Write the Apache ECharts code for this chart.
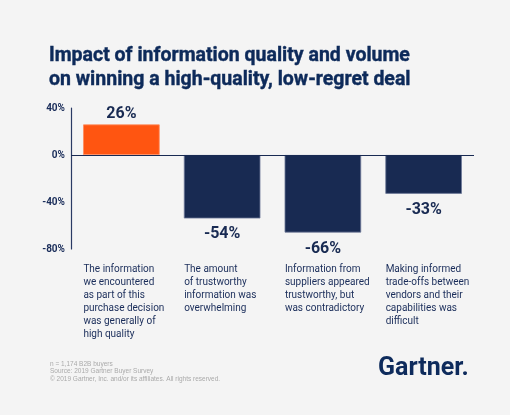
<!DOCTYPE html>
<html><head><meta charset="utf-8">
<script src="https://cdn.jsdelivr.net/npm/echarts@6/dist/echarts.min.js"></script>
<style>html,body{margin:0;padding:0;background:#f4f4f4;}#c{width:510px;height:415px;}</style>
</head><body><div id="c"></div>
<script>
const categories = [
  "The information\nwe encountered\nas part of this\npurchase decision\nwas generally of\nhigh quality",
  "The amount\nof trustworthy\ninformation was\noverwhelming",
  "Information from\nsuppliers appeared\ntrustworthy, but\nwas contradictory",
  "Making informed\ntrade-offs between\nvendors and their\ncapabilities was\ndifficult"
];
const values = [26, -54, -66, -33];
const yTicks = [-80, -40, 0, 40];
const titleText = "Impact of information quality and volume\non winning a high-quality, low-regret deal";
const footerText = "n = 1,174 B2B buyers\nSource: 2019 Gartner Buyer Survey\n\u00a9 2019 Gartner, Inc. and/or its affiliates. All rights reserved.";

const NAVY = '#182a52';
const ORANGE = '#ff5511';
const chart = echarts.init(document.getElementById('c'));
chart.setOption({
  backgroundColor: '#f4f4f4',
  animation: false,
  title: [
    { text: titleText, left: 44, top: 39,
      textStyle: { fontFamily: 'Roboto', fontWeight: 'bold', fontSize: 19.5, lineHeight: 24, color: '#0d2a5a', textBorderColor: '#0d2a5a', textBorderWidth: 0.4 } },
    { text: footerText, left: 45, top: 355,
      textStyle: { fontFamily: 'Liberation Sans', fontWeight: 'normal', fontSize: 6.5, lineHeight: 7.6, color: '#aaaaaa' } },
    { text: 'Gartner.', left: 373, top: 351,
      textStyle: { fontFamily: 'Roboto', fontWeight: 'bold', fontSize: 25, color: '#0e2b5c' } }
  ],
  grid: { left: 71, right: 36, top: 108, bottom: 166, containLabel: false },
  xAxis: {
    type: 'category',
    data: categories,
    position: 'bottom',
    axisLine: { onZero: false, show: false },
    axisTick: { show: false },
    axisLabel: {
      interval: 0,
      margin: 14,
      formatter: function (v) { return v.split('\n').map(l => '{a|' + l + '}').join('\n'); },
      rich: { a: { width: 76, align: 'left', fontFamily: 'Roboto', fontSize: 10, lineHeight: 13, color: '#1a2d5a' } }
    }
  },
  yAxis: {
    type: 'value',
    min: -80, max: 40, interval: 40,
    axisLine: { show: true, lineStyle: { color: '#2a3a64', width: 1.2 } },
    axisTick: { show: false },
    splitLine: { show: false },
    axisLabel: {
      margin: 6,
      formatter: v => v + '%',
      fontFamily: 'Roboto', fontWeight: 'bold', fontSize: 10, color: '#1a2d5a'
    }
  },
  series: [{
    type: 'bar',
    data: values.map(v => ({
      value: v,
      itemStyle: { color: v > 0 ? ORANGE : NAVY, borderColor: v > 0 ? '#ff8a5a' : '#6f7a99', borderWidth: 0.8 },
      label: { distance: v > 0 ? 2 : 8 }
    })),
    barCategoryGap: '24%',
    label: {
      show: true,
      position: 'outside',
      formatter: p => p.value + '%',
      fontFamily: 'Roboto', fontWeight: 'bold', fontSize: 16, color: '#182a52'
    },
    markLine: {
      silent: true, symbol: 'none', label: { show: false },
      lineStyle: { color: '#182a52', type: 'solid', width: 1.2 },
      data: [{ yAxis: 0 }]
    }
  }]
});
</script></body></html>
